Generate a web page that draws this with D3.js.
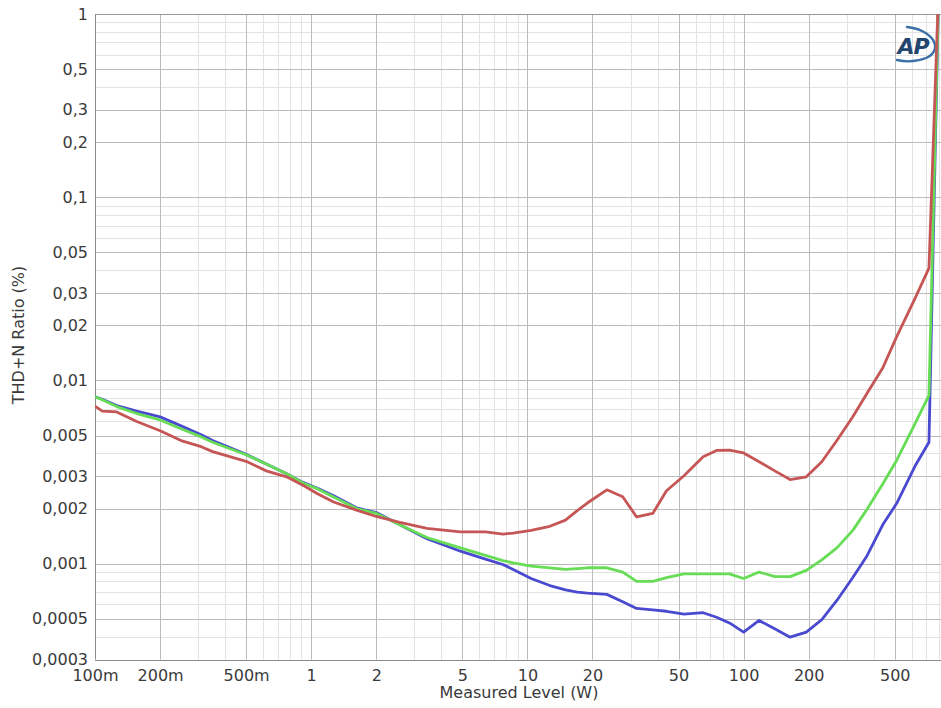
<!DOCTYPE html>
<html>
<head>
<meta charset="utf-8">
<script src="https://cdn.jsdelivr.net/npm/d3@7"></script>
<style>
  html, body { margin: 0; padding: 0; background: #fff; }
  svg { display: block; font-family: "DejaVu Sans", sans-serif; }
</style>
</head>
<body>
<svg id="chart" width="941" height="708"></svg>
<script>
// ---- Data ----
const levels = [0.1, 0.108, 0.126, 0.156, 0.2, 0.25, 0.31, 0.35, 0.5, 0.62, 0.77, 0.92, 1.07, 1.27, 1.62, 2.0, 2.57, 3.43, 4.9, 6.4, 7.7, 8.6, 10.4, 12.7, 15, 17, 19, 23.3, 27.6, 32, 38, 44, 53, 65, 75, 86, 100, 118, 140, 164, 195, 230, 270, 320, 370, 440, 510, 620, 720, 800];

const redSeries = [0.00725, 0.00680, 0.00673, 0.00597, 0.00532, 0.00470, 0.00435, 0.00409, 0.00362, 0.00321, 0.00298, 0.00267, 0.00241, 0.00217, 0.00196, 0.00181, 0.00168, 0.00156, 0.00149, 0.00149, 0.00145, 0.00147, 0.00152, 0.00160, 0.00173, 0.00195, 0.00215, 0.00253, 0.00232, 0.00180, 0.00188, 0.00250, 0.00302, 0.00383, 0.00415, 0.00417, 0.00402, 0.00360, 0.00320, 0.00288, 0.00298, 0.00360, 0.00470, 0.00634, 0.00840, 0.0117, 0.0173, 0.0280, 0.0410, 1.5];

const greenSeries = [0.00815, 0.00785, 0.00720, 0.00660, 0.00609, 0.00545, 0.00492, 0.00460, 0.00393, 0.00350, 0.00310, 0.00275, 0.00256, 0.00231, 0.00200, 0.00188, 0.00163, 0.00139, 0.00122, 0.00111, 0.00104, 0.00101, 0.00097, 0.00095, 0.00093, 0.00094, 0.00095, 0.00095, 0.00090, 0.00080, 0.00080, 0.00084, 0.00088, 0.00088, 0.00088, 0.00088, 0.00083, 0.00090, 0.00085, 0.00085, 0.00092, 0.00105, 0.00122, 0.00152, 0.00196, 0.00272, 0.00366, 0.00580, 0.00830, 1.5];

const blueSeries = [0.00815, 0.00790, 0.00730, 0.00680, 0.00633, 0.00565, 0.00505, 0.00470, 0.00395, 0.00350, 0.00310, 0.00277, 0.00258, 0.00235, 0.00202, 0.00190, 0.00163, 0.00137, 0.00117, 0.00106, 0.00099, 0.00093, 0.00083, 0.00076, 0.00072, 0.00070, 0.00069, 0.00068, 0.00062, 0.00057, 0.00056, 0.00055, 0.00053, 0.00054, 0.00051, 0.000475, 0.000423, 0.00049, 0.00044, 0.000397, 0.000423, 0.000495, 0.00063, 0.00084, 0.00109, 0.00163, 0.00213, 0.00340, 0.00460, 1.5];

const xTickValues = [0.1, 0.2, 0.5, 1, 2, 5, 10, 20, 50, 100, 200, 500];
const xTickLabels = ["100m", "200m", "500m", "1", "2", "5", "10", "20", "50", "100", "200", "500"];
const yTickValues = [1, 0.5, 0.3, 0.2, 0.1, 0.05, 0.03, 0.02, 0.01, 0.005, 0.003, 0.002, 0.001, 0.0005, 0.0003];
const yTickLabels = ["1", "0,5", "0,3", "0,2", "0,1", "0,05", "0,03", "0,02", "0,01", "0,005", "0,003", "0,002", "0,001", "0,0005", "0,0003"];

const seriesList = [
  { name: "blue", values: blueSeries, color: "#4a4ad0" },
  { name: "green", values: greenSeries, color: "#66dd55" },
  { name: "red", values: redSeries, color: "#c65656" }
];

// ---- Layout ----
const pL = 95, pR = 941, pT = 14, pB = 659.5;
const svg = d3.select("#chart");

const x = d3.scaleLog().domain([0.1, 818.5]).range([pL, pR]);
const y = d3.scaleLog().domain([0.0003, 1]).range([pB, pT]);

// Grid lines
const xGrid = [];
for (let e = -1; e <= 2; e++) {
  for (let m = 1; m <= 9; m++) {
    const v = m * Math.pow(10, e);
    if (v > 0.1 && v <= 818.5) xGrid.push({ v, major: [1, 2, 5].includes(m) });
  }
}
const yGrid = [];
for (let e = -4; e <= 0; e++) {
  for (let m = 1; m <= 9; m++) {
    const v = m * Math.pow(10, e);
    if (v > 0.0003 && v < 1) yGrid.push({ v, major: [1, 2, 3, 5].includes(m) });
  }
}

const grid = svg.append("g");
grid.selectAll("line.minx").data(xGrid.filter(d => !d.major)).enter().append("line")
  .attr("x1", d => Math.round(x(d.v)) + 0.5).attr("x2", d => Math.round(x(d.v)) + 0.5)
  .attr("y1", pT).attr("y2", pB).attr("stroke", "#e3e3e3");
grid.selectAll("line.miny").data(yGrid.filter(d => !d.major)).enter().append("line")
  .attr("y1", d => Math.round(y(d.v)) + 0.5).attr("y2", d => Math.round(y(d.v)) + 0.5)
  .attr("x1", pL).attr("x2", pR).attr("stroke", "#e3e3e3");
grid.selectAll("line.majx").data(xGrid.filter(d => d.major)).enter().append("line")
  .attr("x1", d => Math.round(x(d.v)) + 0.5).attr("x2", d => Math.round(x(d.v)) + 0.5)
  .attr("y1", pT).attr("y2", pB).attr("stroke", "#bbbbbb");
grid.selectAll("line.majy").data(yGrid.filter(d => d.major)).enter().append("line")
  .attr("y1", d => Math.round(y(d.v)) + 0.5).attr("y2", d => Math.round(y(d.v)) + 0.5)
  .attr("x1", pL).attr("x2", pR).attr("stroke", "#bbbbbb");

// Frame
svg.append("line").attr("x1", pL).attr("x2", pR).attr("y1", pT + 0.5).attr("y2", pT + 0.5).attr("stroke", "#9a9a9a");
svg.append("line").attr("x1", pL + 0.5).attr("x2", pL + 0.5).attr("y1", pT).attr("y2", pB).attr("stroke", "#8a8a8a");
svg.append("line").attr("x1", pL).attr("x2", pR).attr("y1", Math.round(pB) + 0.5).attr("y2", Math.round(pB) + 0.5).attr("stroke", "#8a8a8a");

// Axes (labels only)
const xAxis = d3.axisBottom(x).tickValues(xTickValues)
  .tickFormat((d, i) => xTickLabels[i]).tickSize(0).tickPadding(10);
const gx = svg.append("g").attr("transform", `translate(0,${pB})`).call(xAxis);
gx.select(".domain").remove();
gx.selectAll("text").attr("font-size", 16).attr("fill", "#3a3a3a").attr("font-family", "DejaVu Sans, sans-serif");

const yAxis = d3.axisLeft(y).tickValues(yTickValues)
  .tickFormat((d, i) => yTickLabels[i]).tickSize(0).tickPadding(7);
const gy = svg.append("g").attr("transform", `translate(${pL},0)`).call(yAxis);
gy.select(".domain").remove();
gy.selectAll("text").attr("font-size", 16).attr("fill", "#3a3a3a").attr("font-family", "DejaVu Sans, sans-serif");

// Axis titles
svg.append("text").attr("x", 519).attr("y", 698).attr("text-anchor", "middle")
  .attr("font-size", 16).attr("fill", "#3a3a3a").text("Measured Level (W)");
svg.append("text").attr("transform", "translate(24,335) rotate(-90)").attr("text-anchor", "middle")
  .attr("font-size", 16).attr("fill", "#3a3a3a").text("THD+N Ratio (%)");

// Clip
svg.append("clipPath").attr("id", "plotclip").append("rect")
  .attr("x", pL).attr("y", pT).attr("width", pR - pL).attr("height", pB - pT);

// AP logo
const logo = svg.append("g");
logo.append("path")
  .attr("d", "M 907 27 C 934 30, 944 50, 926 58 C 916 62, 906 62, 897 60")
  .attr("fill", "none").attr("stroke", "#3a6ea8").attr("stroke-width", 2.4).attr("stroke-linecap", "round");
logo.append("text").attr("x", 913).attr("y", 54).attr("text-anchor", "middle")
  .attr("font-size", 22).attr("font-weight", "bold").attr("font-style", "italic")
  .attr("fill", "#23466f").attr("letter-spacing", -1).text("AP");

// Curves
const line = d3.line().x((d, i) => x(levels[i])).y(d => y(d)).curve(d3.curveLinear);
svg.append("g").attr("clip-path", "url(#plotclip)")
  .selectAll("path").data(seriesList).enter().append("path")
  .attr("d", d => line(d.values))
  .attr("fill", "none").attr("stroke", d => d.color)
  .attr("stroke-width", 2.8).attr("stroke-linejoin", "round");
</script>
</body>
</html>
